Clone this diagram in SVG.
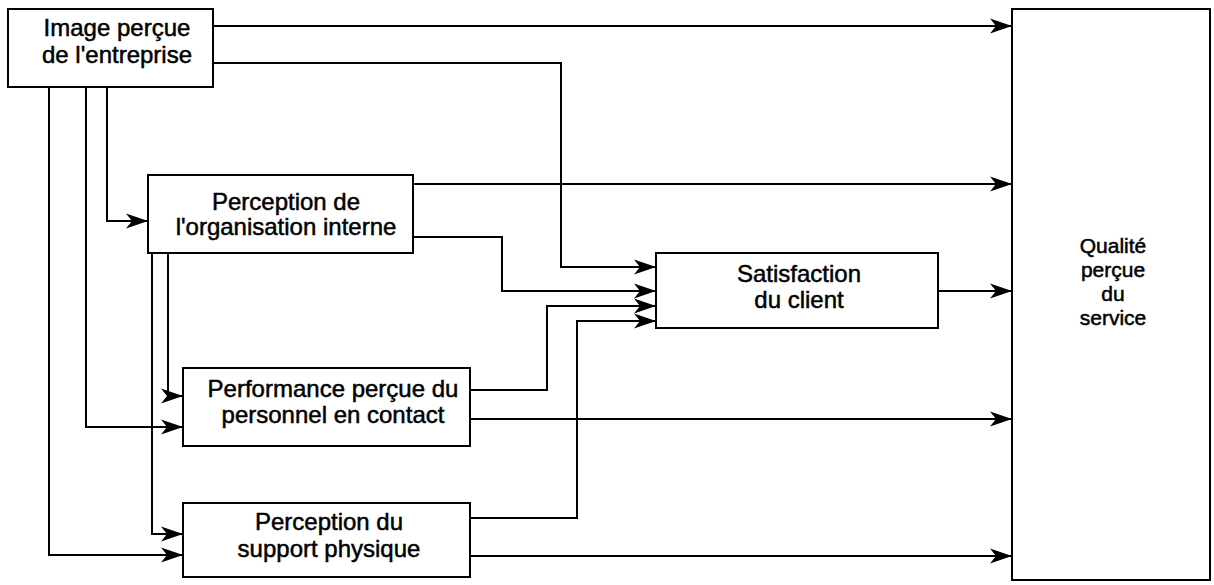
<svg xmlns="http://www.w3.org/2000/svg" width="1214" height="585" viewBox="0 0 1214 585">
<style>
.box{fill:#fff;stroke:#000;stroke-width:2}
.t{font-family:"Liberation Sans",Arial,sans-serif;font-size:24px;fill:#000;stroke:#000;stroke-width:0.5;text-anchor:middle}
.s{font-size:21px}
.c{fill:none;stroke:#000;stroke-width:2;marker-end:url(#a)}
</style>
<defs>
<marker id="a" markerWidth="24" markerHeight="16" refX="22" refY="8" orient="auto" markerUnits="userSpaceOnUse">
<path d="M0,0.5 L22,8 L0,15.5 L6,8 Z" fill="#000"/>
</marker>
</defs>
<g id="connectors">
<path class="c" d="M213,26 H1012"/>
<path class="c" d="M213,63 H561 V267 H656"/>
<path class="c" d="M107,87 V221 H148"/>
<path class="c" d="M86,87 V427 H183"/>
<path class="c" d="M49,87 V555 H183"/>
<path class="c" d="M413,184 H1012"/>
<path class="c" d="M413,237 H502 V291 H656"/>
<path class="c" d="M168,253 V396 H183"/>
<path class="c" d="M152,253 V534 H183"/>
<path class="c" d="M470,390 H547 V306 H656"/>
<path class="c" d="M470,419 H1012"/>
<path class="c" d="M470,518 H577 V321 H656"/>
<path class="c" d="M470,556 H1012"/>
<path class="c" d="M938,291 H1012"/>
</g>
<g id="image">
<rect class="box" x="8" y="9" width="205" height="78"/>
<text class="t" x="117" y="36">Image perçue</text>
<text class="t" x="117" y="63">de l'entreprise</text>
</g>
<g id="organisation">
<rect class="box" x="148" y="175" width="265" height="78"/>
<text class="t" x="286" y="210">Perception de</text>
<text class="t" x="286" y="235">l'organisation interne</text>
</g>
<g id="performance">
<rect class="box" x="183" y="368" width="287" height="78"/>
<text class="t" x="333" y="397">Performance perçue du</text>
<text class="t" x="333" y="423">personnel en contact</text>
</g>
<g id="support">
<rect class="box" x="183" y="503" width="287" height="74"/>
<text class="t" x="329" y="530">Perception du</text>
<text class="t" x="329" y="557">support physique</text>
</g>
<g id="satisfaction">
<rect class="box" x="656" y="253" width="282" height="75"/>
<text class="t" x="799" y="282">Satisfaction</text>
<text class="t" x="799" y="308">du client</text>
</g>
<g id="qualite">
<rect class="box" x="1012" y="9" width="198" height="571"/>
<text class="t s" x="1113" y="253">Qualité</text>
<text class="t s" x="1113" y="277">perçue</text>
<text class="t s" x="1113" y="301">du</text>
<text class="t s" x="1113" y="325">service</text>
</g>
</svg>
